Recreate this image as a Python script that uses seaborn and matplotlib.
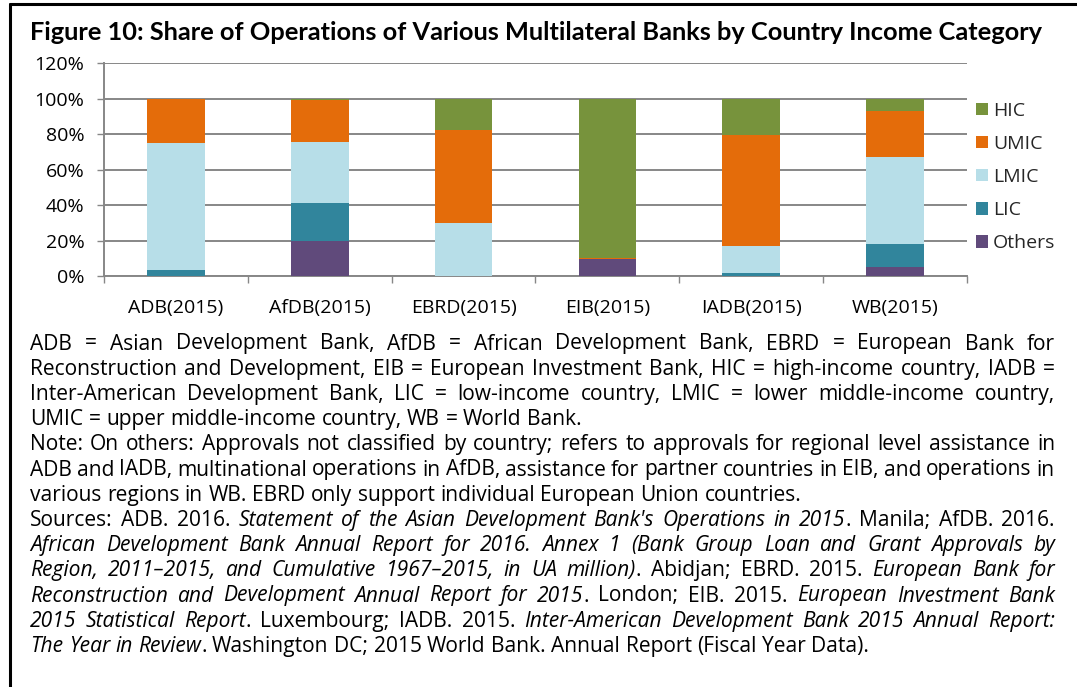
import numpy as np
import pandas as pd
import matplotlib
matplotlib.use("Agg")
import matplotlib.pyplot as plt
import seaborn as sns
from matplotlib import font_manager
from matplotlib.font_manager import FontProperties
from matplotlib.patches import Patch
from matplotlib.lines import Line2D

# ---------------- data ----------------
banks = ["ADB(2015)", "AfDB(2015)", "EBRD(2015)", "EIB(2015)", "IADB(2015)", "WB(2015)"]
others = [0.3, 20.0, 0.0, 9.7, 0.3, 5.1]
lic = [3.3, 21.2, 0.5, 0.0, 1.8, 13.0]
lmic = [71.7, 34.6, 29.5, 0.2, 14.8, 49.3]
umic = [24.7, 23.5, 52.6, 0.4, 62.9, 25.5]
hic = [0.0, 0.7, 17.4, 89.7, 20.2, 7.1]
series_names = ["Others", "LIC", "LMIC", "UMIC", "HIC"]
series_colors = ["#604A7B", "#31859C", "#B7DEE8", "#E46C0A", "#77933C"]
yticks = [0, 20, 40, 60, 80, 100, 120]
title = "Figure 10: Share of Operations of Various Multilateral Banks by Country Income Category"

N, I = False, True
note_lines = [
    ([("ADB = Asian Development Bank, AfDB = African Development Bank, EBRD = European Bank for", N)], True),
    ([("Reconstruction and Development, EIB = European Investment Bank, HIC = high-income country, IADB =", N)], True),
    ([("Inter-American Development Bank, LIC = low-income country, LMIC = lower middle-income country,", N)], True),
    ([("UMIC = upper middle-income country, WB = World Bank.", N)], False),
    ([("Note: On others: Approvals not classified by country; refers to approvals for regional level assistance in", N)], True),
    ([("ADB and IADB, multinational operations in AfDB, assistance for partner countries in EIB, and operations in", N)], True),
    ([("various regions in WB. EBRD only support individual European Union countries.", N)], False),
    ([("Sources: ADB. 2016. ", N), ("Statement of the Asian Development Bank's Operations in 2015", I),
      (". Manila; AfDB. 2016.", N)], True),
    ([("African Development Bank Annual Report for 2016. Annex 1 (Bank Group Loan and Grant Approvals by", I)], True),
    ([("Region, 2011\u20132015, and Cumulative 1967\u20132015, in UA million)", I), (". Abidjan; EBRD. 2015. ", N),
      ("European Bank for", I)], True),
    ([("Reconstruction and Development Annual Report for 2015", I), (". London; EIB. 2015. ", N),
      ("European Investment Bank", I)], True),
    ([("2015 Statistical Report", I), (". Luxembourg; IADB. 2015. ", N),
      ("Inter-American Development Bank 2015 Annual Report:", I)], True),
    ([("The Year in Review", I), (". Washington DC; 2015 World Bank. Annual Report (Fiscal Year Data).", N)], False),
]

# ---------------- setup ----------------
sns.set_style("white")
W, H = 1077, 687
BODY = "Open Sans"
plt.rcParams["font.family"] = [BODY, "DejaVu Sans"]

available = {f.name for f in font_manager.fontManager.ttflist}
title_family = "Lato" if "Lato" in available else BODY

fig = plt.figure(figsize=(W / 100, H / 100), dpi=100)
renderer = fig.canvas.get_renderer()


def px(x):
    return x / W


def py(y):
    return 1 - y / H


def measure(s, fp):
    t = fig.text(0, 0, s, fontproperties=fp)
    w = t.get_window_extent(renderer).width
    t.remove()
    return w


GRID = "#878787"
ax = fig.add_axes([px(104), py(276.5), px(967) - px(104), py(63.3) - py(276.5)])

bottom = np.zeros(len(banks))
for name, vals, col in zip(series_names, [others, lic, lmic, umic, hic], series_colors):
    vals = np.asarray(vals, dtype=float)
    sns.barplot(x=banks, y=vals, color=col, saturation=1, width=0.4, bottom=bottom.copy(),
                errorbar=None, ax=ax, linewidth=0, zorder=3)
    bottom += vals

ax.set_xlim(-0.5, len(banks) - 0.5)
ax.set_ylim(0, 120)
ax.set_yticks(yticks)
ax.set_yticklabels([f"{v}%" for v in yticks])
ax.set_xticks(range(len(banks)))
ax.set_xticklabels(banks)
ax.set_xticks(np.arange(-0.5, len(banks)), minor=True)
ax.set_xlabel("")
ax.set_ylabel("")
ax.yaxis.grid(True, color=GRID, lw=1.4, zorder=0)
ax.xaxis.grid(False)
ax.set_axisbelow(True)
for s in ["top", "right"]:
    ax.spines[s].set_visible(False)
for s in ["left", "bottom"]:
    ax.spines[s].set_color(GRID)
    ax.spines[s].set_linewidth(1.4)
ax.tick_params(axis="y", which="major", length=5, width=1, color=GRID, pad=9, labelsize=14,
               labelcolor="black", left=True)
ax.tick_params(axis="x", which="major", length=0, pad=16, labelsize=14, labelcolor="black")
ax.tick_params(axis="x", which="minor", length=5, width=1, color=GRID, direction="out", bottom=True)

# legend
handles = [Patch(facecolor=c, edgecolor="none", label=n)
           for n, c in zip(series_names[::-1], series_colors[::-1])]
fig.legend(handles=handles, loc="center left", bbox_to_anchor=(px(976), py(177)),
           frameon=False, fontsize=14, handlelength=0.62, handleheight=0.62,
           handletextpad=0.25, labelspacing=0.78, borderpad=0, borderaxespad=0)

# title
tfp = FontProperties(family=[title_family, "DejaVu Sans"], weight="bold", size=16)
tw = measure(title, tfp)
tfp.set_size(16 * (1048 - 30) / tw)
fig.text(px(30), py(40), title, fontproperties=tfp, va="baseline", ha="left", color="black")

# footnotes (justified)
fp_n = FontProperties(family=[BODY, "DejaVu Sans"], size=13)
fp_i = FontProperties(family=[BODY, "DejaVu Sans"], size=13, style="italic")


def parse(segments):
    words, cur = [], []
    for text, it in segments:
        parts = text.split(" ")
        for k, p in enumerate(parts):
            if k > 0 and cur:
                words.append(cur)
                cur = []
            if p:
                cur.append((p, it))
    if cur:
        words.append(cur)
    return words


def natural_width(segs):
    words = parse(segs)
    sw = measure("x x", fp_n) - measure("xx", fp_n)
    tot = sum(measure(p, fp_i if it else fp_n) for w in words for p, it in w)
    return tot + sw * (len(words) - 1)


scale = (865 - 30) / natural_width(note_lines[-1][0])
fp_n.set_size(13 * scale)
fp_i.set_size(13 * scale)
space_w = measure("x x", fp_n) - measure("xx", fp_n)

X0, X1 = 30, 1055
for li, (segs, justify) in enumerate(note_lines):
    yb = 349.5 + li * 25.2
    words = parse(segs)
    widths = []
    for w in words:
        widths.append([measure(p, fp_i if it else fp_n) for p, it in w])
    totals = [sum(ws) for ws in widths]
    if justify and len(words) > 1:
        gap = (X1 - X0 - sum(totals)) / (len(words) - 1)
    else:
        gap = space_w
    x = X0
    for w, ws in zip(words, widths):
        xx = x
        for (p, it), pw in zip(w, ws):
            fig.text(px(xx), py(yb), p, fontproperties=fp_i if it else fp_n,
                     va="baseline", ha="left", color="black")
            xx += pw
        x += sum(ws) + gap

# frame lines
fig.add_artist(Line2D([px(10), px(10)], [0, py(4)], transform=fig.transFigure, color="black", lw=2.2))
fig.add_artist(Line2D([px(10), 1], [py(4), py(4)], transform=fig.transFigure, color="black", lw=2.2))

fig.savefig("out.png", dpi=100)
